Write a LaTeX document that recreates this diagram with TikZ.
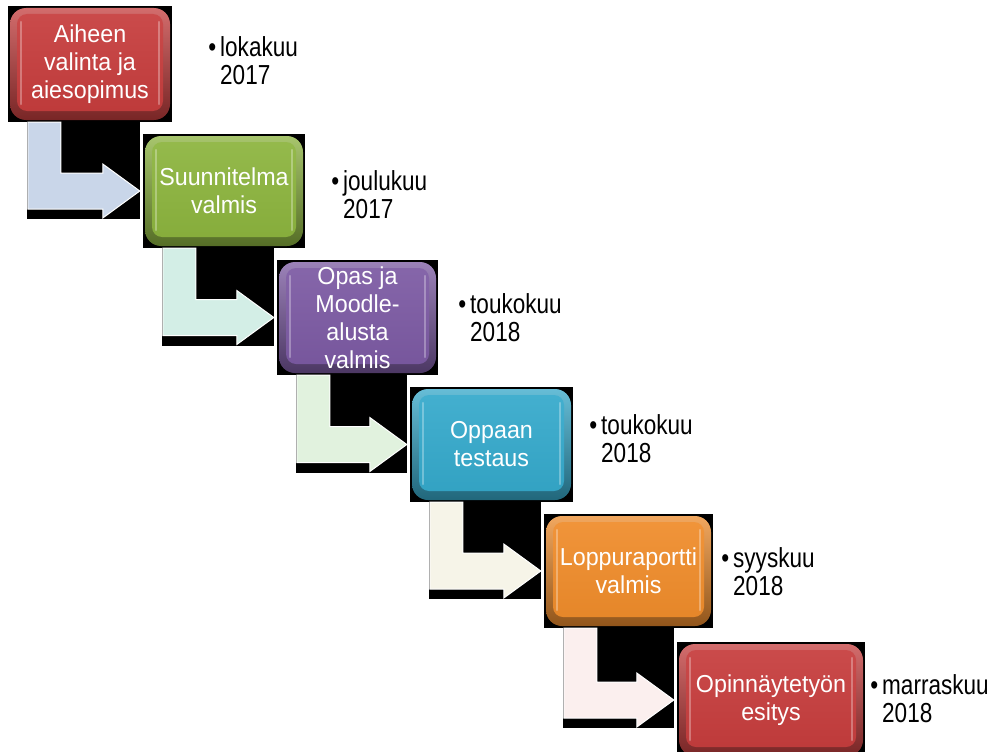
\documentclass[tikz,border=0pt]{standalone}
\usepackage{fontspec}
\setmainfont[FakeStretch=0.95]{Liberation Sans}
\newfontfamily\sidefont[FakeStretch=0.82]{Liberation Sans}
\usetikzlibrary{calc}
\definecolor{cRed}{HTML}{C63D3D}
\definecolor{cGreen}{HTML}{8CB43E}
\definecolor{cPurple}{HTML}{7C5AA3}
\definecolor{cBlue}{HTML}{35A9CB}
\definecolor{cOrange}{HTML}{EF8C2B}
\definecolor{aBlue}{HTML}{C9D6E9}
\definecolor{aMint}{HTML}{D3EEE6}
\definecolor{aGreen}{HTML}{E1F2DE}
\definecolor{aCream}{HTML}{F6F4E8}
\definecolor{aPink}{HTML}{FBEFEE}
\tikzset{
  stage/.style={rectangle, fill=black, inner sep=0pt, minimum width=164pt,
    minimum height=116pt, text=white, align=center,
    font=\fontsize{24.5}{28}\selectfont,
    path picture={
      \shade[top color=#1!75!white, bottom color=#1!60!black, rounded corners=16pt]
        ([shift={(2pt,2pt)}]path picture bounding box.south west) rectangle
        ([shift={(-2pt,-2pt)}]path picture bounding box.north east);
      \shade[top color=#1!93!white, bottom color=#1!96!black, rounded corners=10pt]
        ([shift={(9pt,11pt)}]path picture bounding box.south west) rectangle
        ([shift={(-9pt,-8pt)}]path picture bounding box.north east);
      \draw[white, opacity=0.3, line width=2.5pt, line cap=round]
        ([shift={(13pt,18pt)}]path picture bounding box.south west) --
        ([shift={(13pt,-16pt)}]path picture bounding box.north west);
      \draw[white, opacity=0.3, line width=2.5pt, line cap=round]
        ([shift={(-13pt,18pt)}]path picture bounding box.south east) --
        ([shift={(-13pt,-16pt)}]path picture bounding box.north east);
    }},
  side/.style={inner sep=0pt, anchor=west, align=left, text=black,
    font=\sidefont\fontsize{27.5}{28}\selectfont},
  bentfill/.style={fill=#1, draw=white, line width=1pt, line join=miter}
}
\newcommand\bentarrow[3]{%
  \fill let \p1=(#1.south west), \p2=(#2.west) in
    (\x1+19pt,\y1) rectangle (\x2-3pt,\y2-28pt);
  \path[bentfill=#3] let \p1=(#1.south west), \p2=(#2.west) in
    (\x1+20pt,\y1) -- (\x1+53pt,\y1) -- (\x1+53pt,\y2+18pt) --
    (\x2-40pt,\y2+18pt) -- (\x2-40pt,\y2+27pt) -- (\x2-3pt,\y2) --
    (\x2-40pt,\y2-27pt) -- (\x2-40pt,\y2-18pt) -- (\x1+20pt,\y2-18pt) -- cycle;
}
\begin{document}
\begin{tikzpicture}[x=1pt,y=-1pt]
\fill[white] (0,0) rectangle (993,752);
\useasboundingbox (0,0) rectangle (993,752);

\node[stage=cRed] (b1) at (90,64) {Aiheen\\valinta ja\\aiesopimus};
\node[stage=cGreen, minimum width=162pt, minimum height=114pt] (b2) at (224,191) {Suunnitelma\\valmis};
\node[stage=cPurple, minimum width=161pt, minimum height=115pt] (b3) at (357.5,317.5) {Opas ja\\Moodle-\\alusta\\valmis};
\node[stage=cBlue, minimum width=163pt, minimum height=115pt] (b4) at (491.5,444.5) {Oppaan\\testaus};
\node[stage=cOrange, minimum width=169pt, minimum height=114pt] (b5) at (628.5,571) {Loppuraportti\\valmis};
\node[stage=cRed, minimum width=188pt] (b6) at (771,700) {Opinnäytetyön\\esitys};

\bentarrow{b1}{b2}{aBlue}
\bentarrow{b2}{b3}{aMint}
\bentarrow{b3}{b4}{aGreen}
\bentarrow{b4}{b5}{aCream}
\bentarrow{b5}{b6}{aPink}

\node[side] (t1) at (220,61) {\llap{•\hspace{4pt}}lokakuu\\2017};
\node[side] (t2) at (343,194.5) {\llap{•\hspace{4pt}}joulukuu\\2017};
\node[side] (t3) at (470,318) {\llap{•\hspace{4pt}}toukokuu\\2018};
\node[side] (t4) at (601,438.5) {\llap{•\hspace{4pt}}toukokuu\\2018};
\node[side] (t5) at (733,571.5) {\llap{•\hspace{4pt}}syyskuu\\2018};
\node[side] (t6) at (882,699) {\llap{•\hspace{4pt}}marraskuu\\2018};
\end{tikzpicture}
\end{document}
